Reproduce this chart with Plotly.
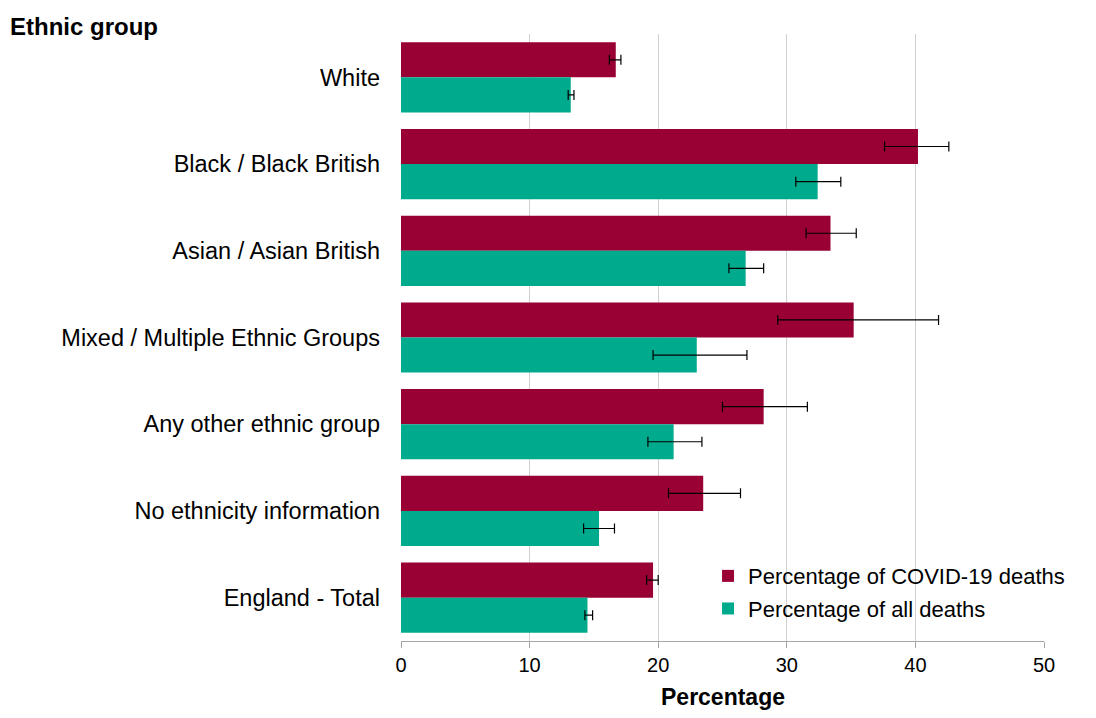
import plotly.graph_objects as go

# Categories, top to bottom as in the source chart
groups = ["White", "Black / Black British", "Asian / Asian British",
          "Mixed / Multiple Ethnic Groups", "Any other ethnic group",
          "No ethnicity information", "England - Total"]

# Percentage of COVID-19 deaths, with confidence interval bounds
covid_pct = [16.7, 40.2, 33.4, 35.2, 28.2, 23.5, 19.6]
covid_low = [16.2, 37.6, 31.5, 29.3, 25.0, 20.8, 19.1]
covid_high = [17.1, 42.6, 35.4, 41.8, 31.6, 26.4, 20.0]

# Percentage of all deaths, with confidence interval bounds
all_pct = [13.2, 32.4, 26.8, 23.0, 21.2, 15.4, 14.5]
all_low = [13.0, 30.7, 25.5, 19.6, 19.2, 14.2, 14.3]
all_high = [13.45, 34.2, 28.2, 26.9, 23.4, 16.6, 14.9]

x_ticks = [0, 10, 20, 30, 40, 50]

RED = "#990033"
GREEN = "#00AA8D"
FONT = "Liberation Sans, Arial, sans-serif"


def err(vals, low, high):
    # asymmetric error bars from the interval bounds
    return dict(type="data", symmetric=False,
                array=[h - v for v, h in zip(vals, high)],
                arrayminus=[v - l for v, l in zip(vals, low)],
                color="#000000", thickness=1.2, width=5)


fig = go.Figure()
fig.add_trace(go.Bar(y=groups, x=covid_pct, orientation="h",
                     name="Percentage of COVID-19 deaths", legendgroup="a",
                     marker=dict(color=RED, line=dict(width=0)),
                     error_x=err(covid_pct, covid_low, covid_high)))
fig.add_trace(go.Bar(y=groups, x=all_pct, orientation="h",
                     name="Percentage of all deaths", legendgroup="b",
                     marker=dict(color=GREEN, line=dict(width=0)),
                     error_x=err(all_pct, all_low, all_high)))

# page body has an 8px margin, so the figure is 16px smaller than the window
fig.update_layout(
    width=1080, height=702,
    margin=dict(l=393, r=44, t=26, b=69),
    paper_bgcolor="white", plot_bgcolor="white",
    font=dict(family=FONT, size=22, color="#000000"),
    barmode="group", bargap=0.19, bargroupgap=0,
    title=dict(text="<b>Ethnic group</b>", xref="container", yref="container",
               x=2 / 1080, xanchor="left", y=1 - 19 / 702, yanchor="middle",
               font=dict(family=FONT, size=24, color="#000000")),
    # legend sits inside the plot, hanging a little over the right edge
    legend=dict(x=0.4775, y=0.018, xanchor="left", yanchor="bottom",
                bgcolor="rgba(0,0,0,0)", font=dict(size=22),
                tracegroupgap=1, itemwidth=30),
    showlegend=True,
)

# x axis title as an annotation, kept just inside the page bottom
fig.add_annotation(text="<b>Percentage</b>", xref="paper", yref="paper",
                   x=0.5, y=0, xanchor="center", yanchor="middle",
                   yshift=-56, showarrow=False,
                   font=dict(family=FONT, size=23, color="#000000"))

fig.update_xaxes(range=[0, 50], tickvals=x_ticks, showgrid=True,
                 gridcolor="#d0d0d0", gridwidth=1, zeroline=False,
                 showline=True, linecolor="#a6a6a6", linewidth=1,
                 ticks="outside", ticklen=6, tickcolor="#a6a6a6",
                 tickfont=dict(size=20), automargin=False)
fig.update_yaxes(autorange="reversed", showgrid=False, showline=False,
                 ticks="", ticklabelstandoff=20, tickfont=dict(size=23.5),
                 automargin=False)

fig.write_html("out.html")
